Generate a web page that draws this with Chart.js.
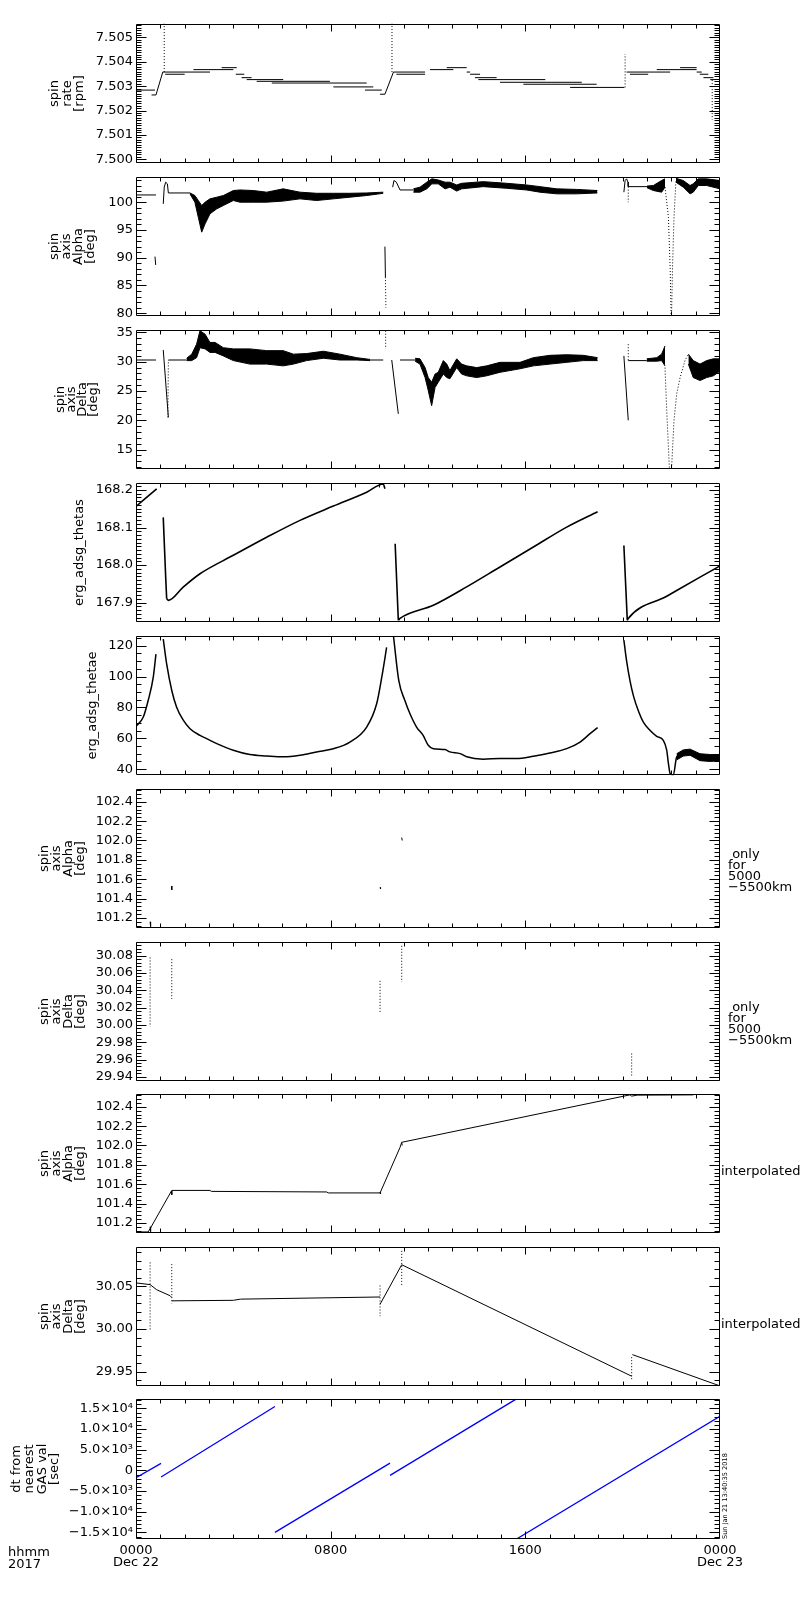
<!DOCTYPE html>
<html><head><meta charset="utf-8">
<script src="https://cdn.jsdelivr.net/npm/chart.js"></script>
<style>
html,body{margin:0;padding:0;background:#fff;}
#wrap{position:relative;width:800px;height:1600px;overflow:hidden;}
.p{position:absolute;left:0;width:800px;}
canvas{display:block;}
</style></head><body><div id="wrap"></div>
<script>
// ---------- time axis (hours from 2017-12-22 00:00) ----------
const xTickHours = [0, 8, 16, 24];
const xTickLabels = [['0000', 'Dec 22'], '0800', '1600', ['0000', 'Dec 23']];

// ---------- panel 1 : spin rate [rpm] ----------
const rateTicks = [7.500, 7.501, 7.502, 7.503, 7.504, 7.505];
const rateT = [0,0.78,null, 0.64,0.82,1.1,3.04,null, 1.2,2.0,null, 2.36,4.0,null, 3.52,4.14,null, 4.1,4.45,null, 4.34,4.75,null, 4.55,6.05,null, 4.96,7.97,null, 5.58,9.48,null, 8.11,9.75,null, 9.41,10.1,null, 10.03,10.23,10.58,11.88,null, 10.7,11.88,null, 12.08,13.04,null, 12.77,13.59,null, 13.59,13.73,null, 13.73,14.14,null, 13.93,14.82,null, 14.07,16.82,null, 14.96,18.32,null, 15.92,18.93,null, 17.84,20.07,null, 20.16,21.95,null, 20.3,21.05,null, 21.4,23.04,null, 22.36,23.04,null, 23.04,23.25,null, 23.17,23.52,null, 23.32,23.73,null, 23.6,23.8];
const rateV = [7.50284,7.50284,null, 7.50264,7.50264,7.50358,7.50358,null, 7.50349,7.50349,null, 7.50368,7.50368,null, 7.50376,7.50376,null, 7.50349,7.50349,null, 7.50335,7.50335,null, 7.50327,7.50327,null, 7.5032,7.5032,null, 7.50313,7.50313,null, 7.50297,7.50297,null, 7.50284,7.50284,null, 7.50267,7.50267,7.50358,7.50358,null, 7.50349,7.50349,null, 7.50368,7.50368,null, 7.50376,7.50376,null, 7.50358,7.50358,null, 7.50349,7.50349,null, 7.50335,7.50335,null, 7.50327,7.50327,null, 7.50316,7.50316,null, 7.50308,7.50308,null, 7.50295,7.50295,null, 7.50358,7.50358,null, 7.50349,7.50349,null, 7.50368,7.50368,null, 7.50376,7.50376,null, 7.50358,7.50358,null, 7.50349,7.50349,null, 7.50335,7.50335,null, 7.50327,7.50327];
const rateSpikeT = [1.16,1.16,null, 10.52,10.52,null, 20.1,20.1,null, 23.68,23.68];
const rateSpikeV = [7.50358,7.5056,null, 7.50358,7.5056,null, 7.50295,7.50432,null, 7.50325,7.50163];

// ---------- panel 2 : spin axis Alpha [deg] ----------
const alphaTicks = [80, 85, 90, 95, 100];
const alphaT = [0,0.82,null, 0.78,0.81,null, 1.12,1.16,1.22,1.29,1.33,2.22,null, 10.23,10.25,null, 10.55,10.6,10.7,10.85,11.4,null, 20.05,20.1,20.16,20.22,20.23,21.0];
const alphaV = [101.3,101.3,null, 90.2,88.7,null, 99.7,102.7,103.6,103.3,101.66,101.66,null, 92,86.5,null, 102.7,103.9,103.6,102.2,102.2,null, 101.8,103.9,104.2,103.6,102.8,102.8];
const alphaDotT = [10.25,10.27,null, 20.23,20.23,null, 21.74,21.88,21.95,21.99,null, 22.01,22.05,22.11,22.19];
const alphaDotV = [86.5,81,null, 102.8,100,null, 102.7,97.3,88.4,79.8,null, 79.8,88.4,97.3,103.9];
const alphaBandT  = [2.22,2.42,2.56,2.70,2.84,3.04,3.32,3.59,4.0,4.27,4.82,5.37,6.05,6.74,7.42,8.11,8.79,9.48,10.16,null,
                     11.4,11.67,11.95,12.16,12.42,12.7,12.9,13.18,13.38,14.27,15.23,16.05,16.6,17.29,18.1,18.96,null,
                     21.0,21.26,21.6,21.74,null, 22.19,22.49,22.77,22.9,23.11,23.45,24.0];
const alphaBandHi = [101.66,101.2,100.3,99.4,100,100.6,100.9,101.2,102.1,102.2,102.1,101.8,102.4,101.8,101.6,101.6,101.6,101.66,101.8,null,
                     102.4,102.7,103.6,104.2,104,103.6,103.6,103.1,103.4,103.7,103.4,103.1,102.8,102.4,102.3,102.1,null,
                     102.9,103,103.9,104.2,null, 104.3,103.9,103,103.3,104.2,104.2,103.9];
const alphaBandLo = [101.48,100,97.3,94.6,96.1,97.9,98.8,99.4,100.3,100,100,100,100.2,100.6,100.3,100.6,100.9,101.2,101.6,null,
                     101.8,101.8,102.4,103.3,103.3,102.4,102.7,102,102.4,102.8,102.5,102.2,101.8,101.5,101.5,101.66,null,
                     102.6,102.1,101.8,102.7,null, 103.6,102.7,101.5,101.8,103,103,102.4];

// ---------- panel 3 : spin axis Delta [deg] ----------
const deltaTicks = [15, 20, 25, 30, 35];
const deltaT = [0,0.82,null, 1.12,1.33,null, 1.33,2.08,null, 9.62,10.16,null, 10.51,10.78,null, 10.85,11.47,null, 20.05,20.23,null, 20.23,20.99];
const deltaV = [30.3,30.3,null, 32,20.5,null, 30.3,30.3,null, 30.3,30.3,null, 30.3,21.1,null, 30.3,30.3,null, 31,20,null, 30.2,30.2];
const deltaDotT = [1.31,1.33,null, 10.26,10.26,null, 20.23,20.23,null, 21.74,21.81,21.92,null, 22.01,22.11,22.22,22.36,22.56,22.7];
const deltaDotV = [20.5,30.3,null, 35.3,32.2,null, 33,30.2,null, 29,21.7,11.8,null, 11.8,20,24.5,27.3,30.2,31.3];
const deltaBandT  = [2.08,2.29,2.49,2.63,2.84,3.04,3.25,3.59,4.0,4.68,5.37,6.05,6.47,7.01,7.7,8.38,9.07,9.62,null,
                     11.47,11.67,11.88,12.01,12.15,12.29,12.42,12.63,12.77,12.9,13.18,13.38,13.59,14.0,14.41,14.96,15.78,16.33,17.01,17.7,18.38,18.97,null,
                     20.99,21.4,21.6,21.74,null, 22.7,22.9,23.18,23.45,23.73,24.03];
const deltaBandHi = [30.6,31.3,33,35.3,34.7,33.3,33.3,32.4,32.2,32.2,31.9,31.9,31.3,31.4,31.8,31.3,30.7,30.4,null,
                     30.6,30.5,29,27.3,26.5,27.9,28.2,30.2,29.6,28.5,30.5,29.6,29.3,29,29.3,29.9,29.9,30.7,31.1,31.2,31.1,30.7,null,
                     30.5,30.7,31.3,32.7,null, 31.3,30.2,29.6,30.2,30.5,30.5];
const deltaBandLo = [30.2,30.2,30.7,32.4,32.2,31.6,31.6,31,30.2,29.6,29.6,29.3,29.6,30.2,30.6,30.3,30.3,30.2,null,
                     30.1,29.6,27.3,25.1,22.5,25.6,26.5,27.9,27.3,27.1,29,27.9,27.6,27.3,27.6,28.2,28.8,29.3,29.6,29.9,30.2,30.2,null,
                     30.1,30.1,30.2,29.3,null, 29.6,27.3,26.8,27.3,27.6,28.5];

// ---------- panel 4 : erg_adsg_thetas ----------
const thetasTicks = [167.9, 168.0, 168.1, 168.2];
const thetasT = [0,0.85,null, 1.12,1.22,1.26,null, 1.26,1.33,1.95,2.63,4.0,5.37,6.74,8.11,9.48,10.16,10.23,null, 10.65,10.78,null, 10.78,10.85,12.22,13.59,14.96,16.33,17.7,18.97,null, 20.05,20.19,null, 20.19,20.23,21.81,23.18,24.03];
const thetasV = [168.156,168.203,null, 168.127,167.968,167.911,null, 167.911,167.906,167.942,167.977,168.026,168.074,168.119,168.157,168.194,168.216,168.203,null, 168.057,167.853,null, 167.853,167.858,167.893,167.942,167.995,168.048,168.101,168.142,null, 168.052,167.853,null, 167.853,167.858,167.917,167.968,167.999];

// ---------- panel 5 : erg_adsg_thetae ----------
const thetaeTicks = [40, 60, 80, 100, 120];
const thetaeT = [0,0.3,0.5,0.71,0.82,null, 1.12,1.26,1.47,1.67,1.95,2.22,2.63,2.9,3.32,4.0,4.68,5.37,6.05,6.74,7.42,8.11,8.79,9.48,9.89,10.1,10.3,null, 10.58,10.8,11.05,11.26,11.53,11.8,12.01,12.22,12.7,12.9,13.32,13.59,14.27,14.96,15.64,16.33,17.01,17.7,18.25,18.66,18.97,null, 20.05,20.16,20.3,20.44,20.64,20.85,21.12,21.4,21.67,21.81,21.88,21.95,22.08,22.22,22.49,22.77,23.18,24.03];
const thetaeV = [67.7,73.8,84.5,99.6,114.6,null, 124.3,108.2,91,80.2,71.6,66.2,61.9,59.8,56.6,52.3,49.5,48.6,48,49,51.2,53.3,57.6,67.3,82.4,99.6,118.9,null, 126.4,97.4,84.5,75.9,67.3,61.9,55.5,53.3,52.7,51.2,50.1,48,46.5,46.9,46.9,48.4,50.5,53.3,57.6,63,66.9,null, 123.7,110.3,97.4,87.7,78,70.5,65.2,61.3,58.7,52.3,43.7,37.2,36.1,48,50.5,51.2,47.5,46.9];
const thetaeBandT  = [22.22,22.49,22.77,23.18,23.6,24.03];
const thetaeBandHi = [50,52.5,53,50,49.5,49.5];
const thetaeBandLo = [46,48.5,49,45.5,45,45.5];

// ---------- panels 6/8 : spin axis Alpha, 5000-5500 km and interpolated ----------
const alphaFineTicks = [101.2, 101.4, 101.6, 101.8, 102.0, 102.2, 102.4];
const alpha5kT = [0.58,0.6,null, 1.47,1.47,null, 10.03,10.05,null, 10.92,10.94];
const alpha5kV = [101.16,101.11,null, 101.53,101.49,null, 101.515,101.5,null, 102.03,102.0];
const alphaIntT = [0,0.5,0.58,1.47,3.04,3.1,7.84,7.9,10.03,10.85,10.92,20.3,20.37,20.6,22.91];
const alphaIntV = [101.107,101.107,101.14,101.536,101.536,101.526,101.52,101.51,101.51,101.98,102.033,102.523,102.51,102.52,102.523];

// ---------- panels 7/9 : spin axis Delta, 5000-5500 km and interpolated ----------
const delta5kTicks = [29.94, 29.96, 29.98, 30.00, 30.02, 30.04, 30.06, 30.08];
const delta5kT = [0.58,0.58,null, 1.47,1.47,null, 10.03,10.03,null, 10.92,10.92,null, 20.37,20.37];
const delta5kV = [30.078,29.998,null, 30.076,30.03,null, 30.051,30.015,null, 30.0915,30.0496,null, 29.967,29.94];
const deltaIntTicks = [29.95, 30.00, 30.05];
const deltaIntT = [0,0.58,0.85,1.4,1.47,null, 1.47,4.0,4.3,10.03,null, 10.03,10.92,20.37,null, 20.4,24.03];
const deltaIntV = [30.054,30.052,30.046,30.039,30.037,null, 30.033,30.0336,30.035,30.0375,null, 30.029,30.0753,29.9447,null, 29.970,29.933];

// ---------- panel 10 : dt from nearest GAS val [sec] ----------
const dtTicks = [-15000, -10000, -5000, 0, 5000, 10000, 15000];
const dtTickLabels = ['\u22121.5\u00d710\u2074', '\u22121.0\u00d710\u2074', '\u22125.0\u00d710\u00b3', '0', '5.0\u00d710\u00b3', '1.0\u00d710\u2074', '1.5\u00d710\u2074'];
const dtT = [0,1.03,null, 1.03,5.71,null, 5.71,10.44,null, 10.44,15.62,null, 15.64,24.03];
const dtV = [-1750,1710,null, -1600,15480,null, -15000,1760,null, -1200,17250,null, -16600,13240];

// ---------- helpers ----------
const FONT = "'DejaVu Sans', sans-serif";
Chart.defaults.font.family = FONT;
Chart.defaults.font.size = 13;
Chart.defaults.color = '#000';
Chart.defaults.elements.point.radius = 0;
Chart.defaults.elements.point.hoverRadius = 0;
Chart.defaults.elements.line.tension = 0;

function pts(T, V) {
  return T.map((t, i) => t === null ? {x: T[i - 1], y: null} : {x: t, y: V[i]});
}
function lineDs(T, V, extra) {
  return Object.assign({data: pts(T, V), borderColor: '#000', borderWidth: 1, fill: false,
    spanGaps: false, pointRadius: 0}, extra || {});
}
function bandDs(T, H, L) {
  const out = [];
  let hi = null, lo = null;
  T.forEach((t, i) => {
    if (t === null) { hi = null; return; }
    if (!hi) {
      hi = []; lo = [];
      out.push({data: hi, borderColor: '#000', borderWidth: 1, backgroundColor: '#000', fill: '+1', pointRadius: 0});
      out.push({data: lo, borderColor: '#000', borderWidth: 1, fill: false, pointRadius: 0});
    }
    hi.push({x: t, y: H[i]});
    lo.push({x: t, y: L[i]});
  });
  return out;
}

const PANEL_TOPS = [23, 176, 329, 482, 635, 788, 941, 1093, 1246, 1398];
const PANEL_H = 141;
const PAD = 10;
const XAXIS_H = 45;

const idlFrame = {
  id: 'idlFrame',
  afterDraw(chart, args, o) {
    const {ctx, chartArea: a} = chart;
    const xs = chart.scales.x, ys = chart.scales.y;
    ctx.save();
    ctx.strokeStyle = '#000';
    ctx.lineWidth = 1;
    const L = Math.round(a.left) + 0.5, R = Math.round(a.right) - 0.5;
    const T = Math.round(a.top) + 0.5, B = Math.round(a.bottom) - 0.5;
    ctx.beginPath();
    ctx.rect(L, T, R - L, B - T);
    for (let h = 1; h < 24; h++) {
      const px = Math.round(xs.getPixelForValue(h)) + 0.5;
      const len = h % 8 === 0 ? 7 : 4;
      ctx.moveTo(px, T); ctx.lineTo(px, T + len);
      ctx.moveTo(px, B); ctx.lineTo(px, B - len);
    }
    const step = o.minor;
    const k0 = Math.ceil(ys.min / step - 1e-6), k1 = Math.floor(ys.max / step + 1e-6);
    for (let k = k0; k <= k1; k++) {
      const py = Math.round(ys.getPixelForValue(k * step)) + 0.5;
      ctx.moveTo(L, py); ctx.lineTo(L + 5, py);
      ctx.moveTo(R, py); ctx.lineTo(R - 5, py);
    }
    ys.ticks.forEach(t => {
      const py = Math.round(ys.getPixelForValue(t.value)) + 0.5;
      ctx.moveTo(L, py); ctx.lineTo(L + 10, py);
      ctx.moveTo(R, py); ctx.lineTo(R - 10, py);
    });
    ctx.stroke();

    const cy = (a.top + a.bottom) / 2;
    ctx.fillStyle = '#000';
    ctx.font = '13px ' + FONT;
    ctx.textAlign = 'center';
    ctx.textBaseline = 'middle';
    o.title.forEach((s, k) => {
      ctx.save();
      ctx.translate(o.titleX + k * o.titleGap, cy);
      ctx.rotate(-Math.PI / 2);
      ctx.fillText(s, 0, 0);
      ctx.restore();
    });
    if (o.right) {
      ctx.textAlign = 'left';
      o.right.forEach((s, k) => ctx.fillText(s, o.rightX, cy + o.rightDy + k * 11));
    }
    if (o.corner) {
      ctx.textAlign = 'left';
      ctx.fillText('hhmm', 8, a.bottom + 14);
      ctx.fillText('2017', 8, a.bottom + 26);
    }
    if (o.stamp) {
      ctx.save();
      ctx.font = '6.6px ' + FONT;
      ctx.translate(725, a.bottom);
      ctx.rotate(-Math.PI / 2);
      ctx.textAlign = 'left';
      ctx.fillText(o.stamp, 0, 0);
      ctx.restore();
    }
    ctx.restore();
  }
};

function panel(i, p) {
  const last = i === 9;
  const h = PAD + PANEL_H + (last ? XAXIS_H : PAD);
  const div = document.createElement('div');
  div.className = 'p';
  div.style.top = (PANEL_TOPS[i] - PAD) + 'px';
  div.style.height = h + 'px';
  const cv = document.createElement('canvas');
  cv.width = 800; cv.height = h;
  div.appendChild(cv);
  document.getElementById('wrap').appendChild(div);
  new Chart(cv, {
    type: 'line',
    data: {datasets: p.datasets},
    options: {
      responsive: false, maintainAspectRatio: false, animation: false, events: [],
      layout: {padding: {left: 0, right: 80, top: PAD, bottom: last ? 0 : PAD}},
      plugins: {legend: {display: false}, tooltip: {enabled: false}, idlFrame: p.frame},
      scales: {
        x: {
          type: 'linear', min: 0, max: 24, display: last,
          grid: {display: false, drawTicks: false}, border: {display: false},
          afterBuildTicks: s => { s.ticks = xTickHours.map(v => ({value: v})); },
          afterFit: s => { s.height = last ? XAXIS_H : 0; },
          ticks: {autoSkip: false, maxRotation: 0, padding: 6, font: {size: 13, lineHeight: 0.92},
                  callback: (v, idx) => xTickLabels[idx]}
        },
        y: {
          type: 'linear', min: p.min, max: p.max,
          grid: {display: false, drawTicks: false}, border: {display: false},
          afterBuildTicks: s => { s.ticks = p.ticks.map(v => ({value: v})); },
          afterFit: s => { s.width = 136; },
          ticks: {autoSkip: false, padding: 3, font: {size: 13}, callback: p.fmt}
        }
      }
    },
    plugins: [idlFrame]
  });
}

const dotted = {borderDash: [1, 2]};
const smooth = {cubicInterpolationMode: 'monotone'};
const ALPHA4 = ['spin', 'axis', 'Alpha', '[deg]'];
const DELTA4 = ['spin', 'axis', 'Delta', '[deg]'];
const ONLY = [' only', 'for', '5000', '\u22125500km'];

panel(0, {min: 7.49984, max: 7.50556, ticks: rateTicks, fmt: v => v.toFixed(3),
  datasets: [lineDs(rateT, rateV), lineDs(rateSpikeT, rateSpikeV, dotted)],
  frame: {minor: 0.0001, title: ['spin', 'rate', '[rpm]'], titleX: 55, titleGap: 12.5}});

panel(1, {min: 79.47, max: 104.57, ticks: alphaTicks, fmt: v => String(v),
  datasets: [...bandDs(alphaBandT, alphaBandHi, alphaBandLo), lineDs(alphaT, alphaV), lineDs(alphaDotT, alphaDotV, dotted)],
  frame: {minor: 1, title: ALPHA4, titleX: 55, titleGap: 12}});

panel(2, {min: 11.65, max: 35.46, ticks: deltaTicks, fmt: v => String(v),
  datasets: [...bandDs(deltaBandT, deltaBandHi, deltaBandLo), lineDs(deltaT, deltaV), lineDs(deltaDotT, deltaDotV, dotted)],
  frame: {minor: 1, title: DELTA4, titleX: 61, titleGap: 11}});

panel(3, {min: 167.848, max: 168.219, ticks: thetasTicks, fmt: v => v.toFixed(1),
  datasets: [lineDs(thetasT, thetasV, Object.assign({borderWidth: 1.6}, smooth))],
  frame: {minor: 0.01, title: ['erg_adsg_thetas'], titleX: 80, titleGap: 12}});

panel(4, {min: 36.1, max: 126.45, ticks: thetaeTicks, fmt: v => String(v),
  datasets: [...bandDs(thetaeBandT, thetaeBandHi, thetaeBandLo), lineDs(thetaeT, thetaeV, Object.assign({borderWidth: 1.5}, smooth))],
  frame: {minor: 5, title: ['erg_adsg_thetae'], titleX: 93, titleGap: 12}});

panel(5, {min: 101.094, max: 102.534, ticks: alphaFineTicks, fmt: v => v.toFixed(1),
  datasets: [lineDs(alpha5kT, alpha5kV)],
  frame: {minor: 0.04, title: ALPHA4, titleX: 45, titleGap: 12, right: ONLY, rightX: 728, rightDy: -3.5}});

panel(6, {min: 29.935, max: 30.0961, ticks: delta5kTicks, fmt: v => v.toFixed(2),
  datasets: [lineDs(delta5kT, delta5kV, dotted)],
  frame: {minor: 0.004, title: DELTA4, titleX: 45, titleGap: 12, right: ONLY, rightX: 728, rightDy: -3.5}});

panel(7, {min: 101.094, max: 102.534, ticks: alphaFineTicks, fmt: v => v.toFixed(1),
  datasets: [lineDs(alphaIntT, alphaIntV), lineDs(alpha5kT, alpha5kV)],
  frame: {minor: 0.04, title: ALPHA4, titleX: 45, titleGap: 12, right: ['interpolated'], rightX: 721, rightDy: 8}});

panel(8, {min: 29.933, max: 30.0963, ticks: deltaIntTicks, fmt: v => v.toFixed(2),
  datasets: [lineDs(deltaIntT, deltaIntV), lineDs(delta5kT, delta5kV, dotted)],
  frame: {minor: 0.01, title: DELTA4, titleX: 45, titleGap: 12, right: ['interpolated'], rightX: 721, rightDy: 8}});

panel(9, {min: -16600, max: 17330, ticks: dtTicks, fmt: (v, idx) => dtTickLabels[idx],
  datasets: [lineDs(dtT, dtV, {borderColor: '#0000ff', borderWidth: 1.3})],
  frame: {minor: 1000, title: ['dt from', 'nearest', 'GAS val', '[sec]'], titleX: 17, titleGap: 12.7,
          corner: true, stamp: 'Sun Jan 21 13:40:35 2018'}});
</script></body></html>
